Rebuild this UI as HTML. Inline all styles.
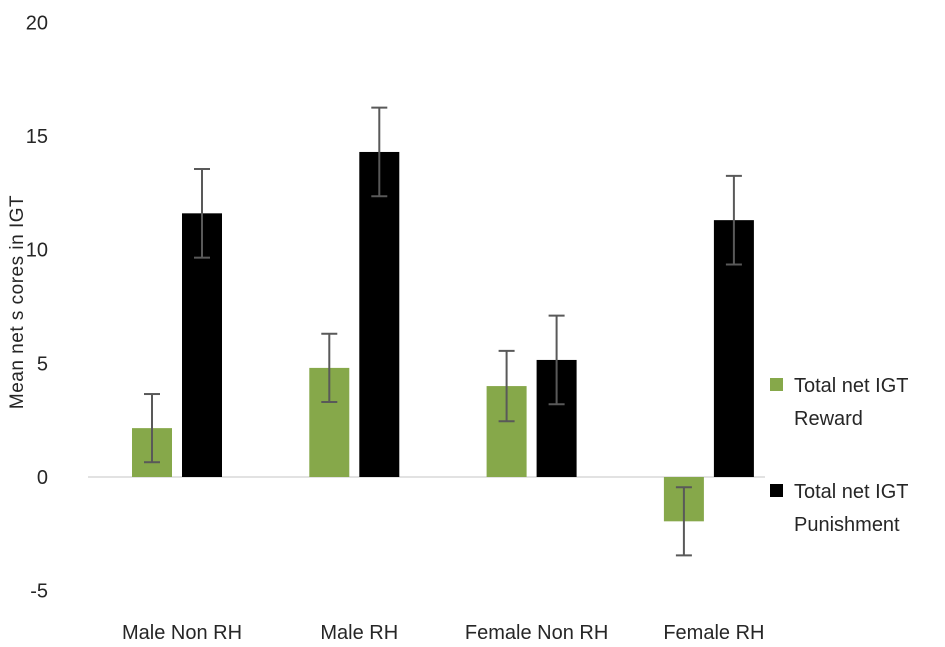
<!DOCTYPE html>
<html><head><meta charset="utf-8"><style>
body{margin:0;background:#fff;}
svg text{font-family:"Liberation Sans",sans-serif;fill:#262626;}
</style></head><body>
<svg id="chart" width="945" height="642" xmlns="http://www.w3.org/2000/svg">
<g id="yticks"></g>
<line id="zero" x1="88" x2="765" y1="477" y2="477" stroke="#d9d9d9" stroke-width="1.5"/>
<g id="bars"></g>
<g id="xlabels"></g>
<text transform="translate(23,302) rotate(-90)" text-anchor="middle" font-size="19" letter-spacing="0.5">Mean net s cores in IGT</text>
<g>
<g>
<rect x="770" y="378" width="13" height="13" fill="#86a84a"/>
<text x="794" y="392" font-size="20">Total net IGT</text>
<text x="794" y="425" font-size="20">Reward</text>
</g>
<g>
<rect x="770" y="484" width="13" height="13" fill="#000"/>
<text x="794" y="498" font-size="20">Total net IGT</text>
<text x="794" y="531" font-size="20">Punishment</text>
</g>
</g>
</svg>
<script>
const categories=["Male Non RH","Male RH","Female Non RH","Female RH"];
const rewardValues=[2.15,4.8,4.0,-1.95];
const rewardErrors=[1.5,1.5,1.55,1.5];
const punishValues=[11.6,14.3,5.15,11.3];
const punishErrors=[1.95,1.95,1.95,1.95];
const yTicks=[-5,0,5,10,15,20];
const NS="http://www.w3.org/2000/svg";
function y(v){return 477-v*22.73;}
function xc(i){return 177+i*177.3;}
function mk(tag,attrs,parent){const e=document.createElementNS(NS,tag);for(const k in attrs)e.setAttribute(k,attrs[k]);parent.appendChild(e);return e;}
const yt=document.getElementById('yticks');
yTicks.forEach(t=>{const e=mk('text',{x:48,y:y(t)+7,'text-anchor':'end','font-size':20},yt);e.textContent=t;

});
const bg=document.getElementById('bars');
function bar(x,v,err,color,name){
 const top=Math.min(y(v),y(0)),h=Math.abs(y(v)-y(0));
 const r=mk('rect',{x:x,y:top,width:40,height:h,fill:color},bg);
 
 
 const cx=x+20,y1=y(v+err),y2=y(v-err);
 const g=mk('g',{stroke:'#595959','stroke-width':2},bg);
 
 
 mk('line',{x1:cx,x2:cx,y1:y1,y2:y2},g);
 mk('line',{x1:cx-8,x2:cx+8,y1:y1,y2:y1},g);
 mk('line',{x1:cx-8,x2:cx+8,y1:y2,y2:y2},g);
}
const xl=document.getElementById('xlabels');
categories.forEach((c,i)=>{
 bar(xc(i)-45,rewardValues[i],rewardErrors[i],'#86a84a','bar-reward-'+i);
 bar(xc(i)+5,punishValues[i],punishErrors[i],'#000','bar-punishment-'+i);
 const t=mk('text',{x:xc(i)+5,y:639,'text-anchor':'middle','font-size':20},xl);t.textContent=c;
 
 
});
</script>
</body></html>
